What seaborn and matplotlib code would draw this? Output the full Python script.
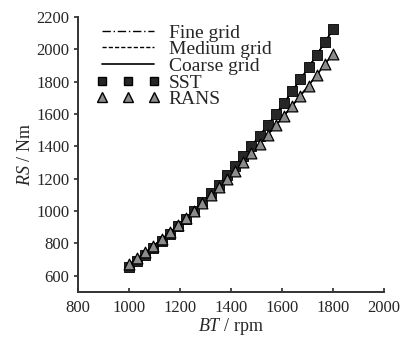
import matplotlib
matplotlib.use("Agg")
import matplotlib.pyplot as plt
from matplotlib.lines import Line2D
import seaborn as sns
import pandas as pd

bt = [1000, 1032, 1064, 1096, 1128, 1160, 1192, 1224, 1256, 1288, 1320, 1352, 1384,
      1416, 1448, 1480, 1512, 1544, 1576, 1608, 1640, 1672, 1704, 1736, 1768, 1800]
rs_sst = [655, 692, 731, 772, 815, 859, 906, 954, 1003, 1055, 1109, 1164, 1221,
          1280, 1340, 1403, 1467, 1533, 1601, 1670, 1741, 1815, 1890, 1966, 2045, 2125]
rs_rans = [670, 707, 746, 785, 826, 869, 912, 957, 1003, 1050, 1098, 1148, 1199,
           1251, 1305, 1359, 1415, 1473, 1531, 1591, 1652, 1714, 1777, 1842, 1908, 1975]
x_ticks = [800, 1000, 1200, 1400, 1600, 1800, 2000]
y_ticks = [600, 800, 1000, 1200, 1400, 1600, 1800, 2000, 2200]

df = pd.DataFrame({"BT": bt, "SST": rs_sst, "RANS": rs_rans})

sns.set_theme(style="ticks")
plt.rcParams["font.family"] = ["Liberation Serif", "DejaVu Serif"]
plt.rcParams["mathtext.fontset"] = "custom"
plt.rcParams["mathtext.it"] = "Liberation Serif:italic"
plt.rcParams["mathtext.rm"] = "Liberation Serif"

fig = plt.figure(figsize=(4.06, 3.43), dpi=100)
ax = fig.add_axes([0.192, 0.149, 0.754, 0.801])

styles = {"fine": (0, (6, 2, 1, 2)), "medium": (0, (3, 1.5)), "coarse": "-"}
for col in ["SST", "RANS"]:
    for key, ls in styles.items():
        sns.lineplot(data=df, x="BT", y=col, ax=ax, color="black", lw=1.0,
                     linestyle=ls, legend=False)

sns.scatterplot(data=df, x="BT", y="SST", ax=ax, marker="s", s=45,
                color="#262626", edgecolor="black", linewidth=0.6, zorder=5)
sns.scatterplot(data=df, x="BT", y="RANS", ax=ax, marker="^", s=60,
                color="#8c8c8c", edgecolor="black", linewidth=0.9, zorder=6)

ax.set_xlim(800, 2000)
ax.set_ylim(500, 2200)
ax.set_xticks(x_ticks)
ax.set_yticks(y_ticks)
ax.tick_params(axis="x", direction="in", length=3, labelsize=12, pad=6, color="#333333")
ax.tick_params(axis="y", direction="out", length=3, labelsize=12, pad=3, color="#333333")
for s in ["top", "right"]:
    ax.spines[s].set_visible(False)
for s in ["left", "bottom"]:
    ax.spines[s].set_color("#333333")
    ax.spines[s].set_linewidth(1.4)

ax.set_xlabel(r"$BT$ / rpm", fontsize=13, labelpad=0)
ax.set_ylabel(r"$RS$ / Nm", fontsize=13, labelpad=2)

handles = [
    Line2D([], [], color="black", lw=1.0, linestyle=styles["fine"]),
    Line2D([], [], color="black", lw=1.0, linestyle=styles["medium"]),
    Line2D([], [], color="black", lw=1.2, linestyle="-"),
    Line2D([], [], color="#262626", marker="s", markersize=6, linestyle="",
           markeredgecolor="black"),
    Line2D([], [], color="#8c8c8c", marker="^", markersize=7, linestyle="",
           markeredgecolor="black"),
]
labels = ["Fine grid", "Medium grid", "Coarse grid", "SST", "RANS"]
ax.legend(handles, labels, loc="upper left", bbox_to_anchor=(0.058, 0.975),
          frameon=False, fontsize=14, handlelength=3.3, handletextpad=0.45,
          labelspacing=-0.05, numpoints=3, borderpad=0, borderaxespad=0)

fig.savefig("out.png", dpi=100)
